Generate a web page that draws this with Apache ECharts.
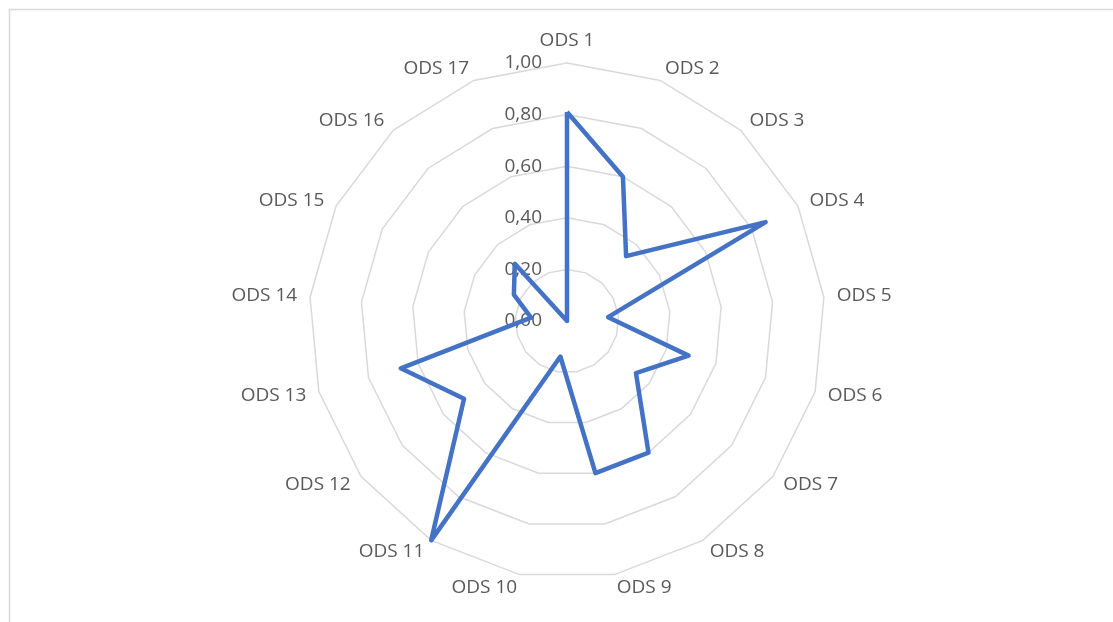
<!DOCTYPE html>
<html><head><meta charset="utf-8">
<script src="https://cdn.jsdelivr.net/npm/echarts@6/dist/echarts.min.js"></script>
<style>html,body{margin:0;padding:0;background:#fff}#c{width:1113px;height:622px}</style>
</head><body><div id="c"></div>
<script>
const categories = ['ODS 1','ODS 2','ODS 3','ODS 4','ODS 5','ODS 6','ODS 7','ODS 8','ODS 9','ODS 10','ODS 11','ODS 12','ODS 13','ODS 14','ODS 15','ODS 16','ODS 17'];
const values = [0.81, 0.60, 0.34, 0.86, 0.16, 0.49, 0.335, 0.60, 0.60, 0.14, 1.00, 0.50, 0.67, 0.14, 0.23, 0.30, 0.00];
const tickMax = 1;
// ECharts lays radar indicators counter-clockwise; reorder so they run clockwise like the reference
const order = [0].concat(categories.map((_, i) => i).slice(1).reverse());
const cats = order.map(i => categories[i]);
const vals = order.map(i => values[i]);
const chart = echarts.init(document.getElementById('c'));
chart.setOption({
  animation: false,
  graphic: [{type:'rect', shape:{x:9.5,y:9.5,width:1300,height:800}, style:{fill:'none', stroke:'#D9D9D9', lineWidth:1.5}, silent:true}],
  radar: {
    center: [567, 321],
    radius: 258,
    startAngle: 90,
    shape: 'polygon',
    splitNumber: 5,
    nameGap: 13,
    indicator: cats.map((n, i) => ({name: n, min: 0, max: tickMax, axisLabel: {show: i === 0}})),
    axisName: {color: '#595959', fontFamily: 'Open Sans', fontSize: 19},
    axisLine: {show: false},
    splitArea: {show: false},
    splitLine: {lineStyle: {color: '#D9D9D9', width: 1.5}},
    axisTick: {show: false},
    axisLabel: {show: true, color: '#595959', fontFamily: 'Open Sans', fontSize: 19, margin: 25,
      formatter: v => v.toFixed(2).replace('.', ',')}
  },
  series: [{
    type: 'radar',
    symbol: 'none',
    lineStyle: {color: '#4472C4', width: 4.5},
    itemStyle: {color: '#4472C4'},
    data: [{value: vals}]
  }]
});
</script></body></html>
